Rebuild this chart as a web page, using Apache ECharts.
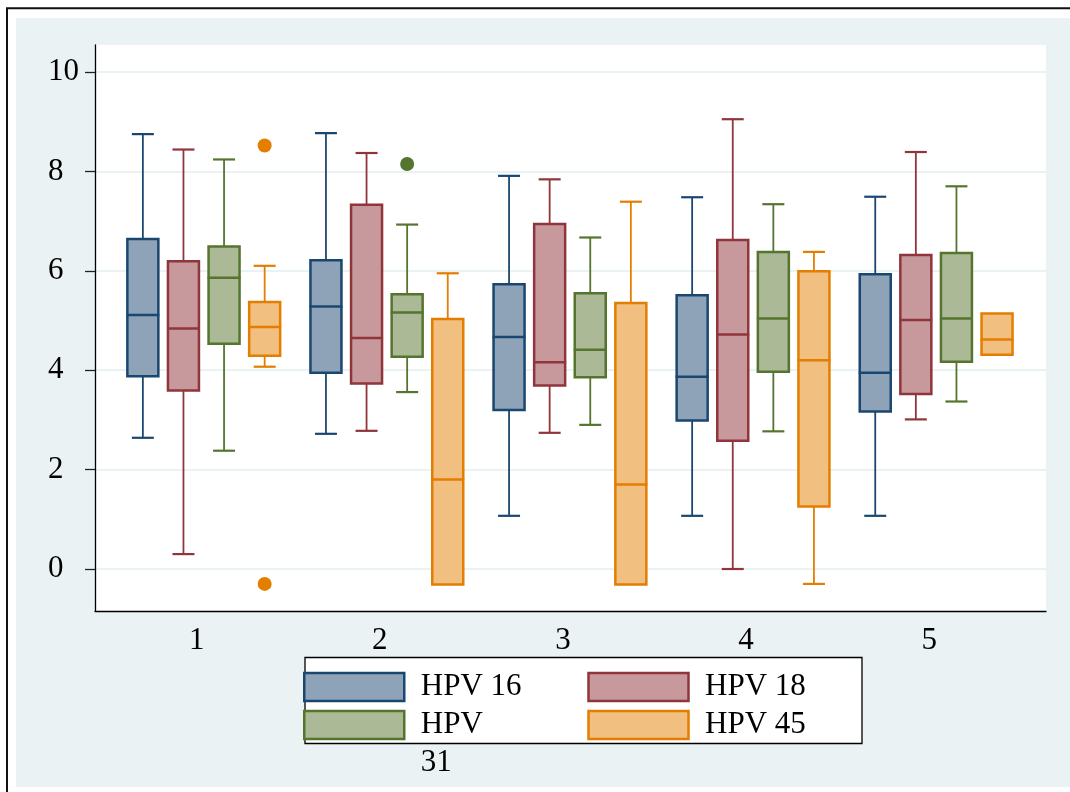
<!DOCTYPE html>
<html>
<head>
<meta charset="utf-8">
<script src="https://cdn.jsdelivr.net/npm/echarts@6/dist/echarts.min.js"></script>
<style>
  html, body { margin: 0; padding: 0; background: #ffffff; }
  #chart { width: 1070px; height: 792px; }
</style>
</head>
<body>
<div id="chart"></div>
<script>
// Groups on the x axis
const groups = [1, 2, 3, 4, 5];
const seriesNames = ['HPV 16', 'HPV 18', 'HPV 31', 'HPV 45'];

// Box statistics per group: [min, q1, median, q3, max]
const hpv16 = [[2.64, 3.88, 5.11, 6.64, 8.75], [2.72, 3.95, 5.28, 6.21, 8.77], [1.07, 3.20, 4.67, 5.73, 7.91], [1.07, 2.99, 3.87, 5.51, 7.48], [1.07, 3.17, 3.95, 5.93, 7.49]];
const hpv18 = [[0.30, 3.59, 4.84, 6.19, 8.44], [2.78, 3.73, 4.65, 7.33, 8.37], [2.74, 3.69, 4.16, 6.94, 7.84], [0.00, 2.58, 4.72, 6.62, 9.05], [3.01, 3.52, 5.01, 6.32, 8.39]];
const hpv31 = [[2.38, 4.53, 5.86, 6.49, 8.24], [3.56, 4.27, 5.16, 5.53, 6.93], [2.90, 3.86, 4.41, 5.55, 6.67], [2.77, 3.97, 5.04, 6.38, 7.34], [3.37, 4.17, 5.04, 6.36, 7.70]];
const hpv45 = [[4.07, 4.29, 4.87, 5.37, 6.10], [-0.31, -0.31, 1.80, 5.03, 5.95], [-0.31, -0.31, 1.70, 5.35, 7.39], [-0.30, 1.26, 4.20, 5.99, 6.38], [4.31, 4.31, 4.62, 5.14, 5.14]];

// Outside values: [group, value]
const hpv31Outliers = [[2, 8.15]];
const hpv45Outliers = [[1, 8.52], [1, -0.30]];

// Axis labels
const yTicks = [0, 2, 4, 6, 8, 10];

const lineColors = ['#1A476F', '#90353B', '#55752F', '#E37E00'];
const fillColors = ['#8EA3B7', '#C8999C', '#ABB996', '#F1BF80'];

const FONT = 'Liberation Serif';
const BOX_PITCH = 40.6;   // px between neighbouring boxes in a group
const BOX_W = 31;         // box width, px
const CAP_W = 22;         // whisker cap width, px

function toRows(stats) {
  return stats.map(function (s, i) { return [groups[i]].concat(s); });
}

function boxRenderer(slot) {
  const stroke = lineColors[slot];
  const fill = fillColors[slot];
  return function (params, api) {
    const g = api.value(0);
    const cx = api.coord([g, 0])[0] + (slot - 1.5) * BOX_PITCH;
    const yMin = api.coord([g, api.value(1)])[1];
    const yQ1 = api.coord([g, api.value(2)])[1];
    const yMed = api.coord([g, api.value(3)])[1];
    const yQ3 = api.coord([g, api.value(4)])[1];
    const yMax = api.coord([g, api.value(5)])[1];
    const children = [];
    const whisker = { stroke: stroke, lineWidth: 1.8 };
    const cap = { stroke: stroke, lineWidth: 2.2 };
    if (yQ3 - yMax > 0.5) {
      children.push({ type: 'line', shape: { x1: cx, y1: yQ3, x2: cx, y2: yMax }, style: whisker });
      children.push({ type: 'line', shape: { x1: cx - CAP_W / 2, y1: yMax, x2: cx + CAP_W / 2, y2: yMax }, style: cap });
    }
    if (yMin - yQ1 > 0.5) {
      children.push({ type: 'line', shape: { x1: cx, y1: yQ1, x2: cx, y2: yMin }, style: whisker });
      children.push({ type: 'line', shape: { x1: cx - CAP_W / 2, y1: yMin, x2: cx + CAP_W / 2, y2: yMin }, style: cap });
    }
    children.push({
      type: 'rect',
      shape: { x: cx - BOX_W / 2, y: yQ3, width: BOX_W, height: yQ1 - yQ3 },
      style: { fill: fill, stroke: stroke, lineWidth: 2.5 }
    });
    children.push({
      type: 'line',
      shape: { x1: cx - BOX_W / 2 - 1, y1: yMed, x2: cx + BOX_W / 2 + 1, y2: yMed },
      style: { stroke: stroke, lineWidth: 2.5 }
    });
    return { type: 'group', children: children };
  };
}

const allStats = [hpv16, hpv18, hpv31, hpv45];

const series = allStats.map(function (stats, i) {
  return {
    name: seriesNames[i],
    type: 'custom',
    renderItem: boxRenderer(i),
    encode: { x: 0, y: [1, 2, 3, 4, 5] },
    itemStyle: { color: fillColors[i], borderColor: lineColors[i], borderWidth: 2.5 },
    data: toRows(stats),
    clip: false,
    z: 3
  };
});

function outlierSeries(data, slot) {
  return {
    name: seriesNames[slot] + ' outside',
    type: 'scatter',
    data: data,
    symbol: 'circle',
    symbolSize: 14,
    symbolOffset: [(slot - 1.5) * BOX_PITCH, 0],
    itemStyle: { color: lineColors[slot], opacity: 1 },
    z: 4
  };
}
series.push(outlierSeries(hpv31Outliers, 2));
series.push(outlierSeries(hpv45Outliers, 3));

// "HPV 31" wraps: a blank first line keeps "HPV" level with the key,
// and "31" drops onto the line below.
function legendLabel(name) {
  if (name === 'HPV 31') {
    const parts = name.split(' ');
    return '\n' + parts[0] + '\n' + parts[1];
  }
  return name;
}

function legendItem(i, extra) {
  const item = { name: seriesNames[i], itemStyle: { color: fillColors[i], borderColor: lineColors[i], borderWidth: 2.5 } };
  if (extra) item.textStyle = extra;
  return item;
}

const chart = echarts.init(document.getElementById('chart'), null, { renderer: 'canvas' });
chart.setOption({
  animation: false,
  textStyle: { fontFamily: FONT },
  graphic: [
    { type: 'rect', z: -10, shape: { x: 16, y: 18, width: 1070, height: 769 }, style: { fill: '#EAF2F3' } },
    { type: 'rect', z: -9, shape: { x: 7, y: 8.3, width: 1100, height: 820 }, style: { fill: null, stroke: '#111', lineWidth: 2 } },
    { type: 'rect', z: 1, shape: { x: 305, y: 657.5, width: 557, height: 86 }, style: { fill: '#ffffff', stroke: '#000', lineWidth: 1.3 } }
  ],
  grid: {
    left: 95, top: 45, width: 951, height: 566,
    show: true, backgroundColor: '#ffffff', borderWidth: 0
  },
  legend: {
    left: 303, top: 668, padding: 0, z: 5,
    orient: 'horizontal',
    icon: 'rect', itemWidth: 100, itemHeight: 28, itemGap: 7,
    selectedMode: false,
    textStyle: {
      fontFamily: FONT, fontSize: 31, color: '#000',
      lineHeight: 28, width: 159.5, padding: [0, 0, 0, 11.5]
    },
    formatter: legendLabel,
    data: [legendItem(0), legendItem(1), '', legendItem(2, { lineHeight: 38 }), legendItem(3)]
  },
  xAxis: {
    type: 'value', min: 0.406, max: 5.600,
    axisLine: { show: true, onZero: false, lineStyle: { color: '#000', width: 1.3 } },
    axisTick: { show: false },
    splitLine: { show: false },
    axisLabel: {
      customValues: groups, margin: 14,
      fontFamily: FONT, fontSize: 31, color: '#000',
      padding: [0, 14, 0, 0],
      formatter: function (v) { return String(v); }
    }
  },
  yAxis: {
    type: 'value', min: -0.845, max: 10.543,
    axisLine: { show: true, lineStyle: { color: '#000', width: 1.3 } },
    axisTick: { show: true, length: 10, customValues: yTicks, lineStyle: { color: '#222', width: 1.3 } },
    splitLine: { show: true, lineStyle: { color: '#EAF2F3', width: 2 } },
    axisLabel: {
      customValues: yTicks, margin: 47, align: 'left',
      fontFamily: FONT, fontSize: 31, color: '#000',
      padding: [6, 0, 0, 0],
      formatter: function (v) { return String(v); }
    }
  },
  series: series
});
</script>
</body>
</html>
